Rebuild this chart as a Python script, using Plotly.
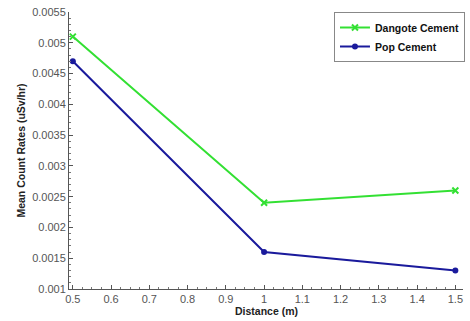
import plotly.graph_objects as go

distance = [0.5, 1.0, 1.5]
dangote = [0.0051, 0.0024, 0.0026]
pop = [0.0047, 0.0016, 0.0013]
x_ticks = [0.5, 0.6, 0.7, 0.8, 0.9, 1.0, 1.1, 1.2, 1.3, 1.4, 1.5]
x_labels = ["0.5", "0.6", "0.7", "0.8", "0.9", "1", "1.1", "1.2", "1.3", "1.4", "1.5"]
y_ticks = [0.001, 0.0015, 0.002, 0.0025, 0.003, 0.0035, 0.004, 0.0045, 0.005, 0.0055]
y_labels = ["0.001", "0.0015", "0.002", "0.0025", "0.003", "0.0035", "0.004", "0.0045", "0.005", "0.0055"]

FONT = "Liberation Sans, Arial, sans-serif"

fig = go.Figure()
fig.add_trace(go.Scatter(x=distance, y=dangote, mode="lines+markers", name="<b>Dangote Cement</b>",
                         line=dict(color="#33e033", width=2),
                         marker=dict(symbol="x-thin", size=6, color="#33e033", line=dict(color="#33e033", width=2))))
fig.add_trace(go.Scatter(x=distance, y=pop, mode="lines+markers", name="<b>Pop Cement</b>",
                         line=dict(color="#1a1a9c", width=2),
                         marker=dict(symbol="circle", size=6, color="#1a1a9c")))

fig.update_layout(
    width=470, height=321,
    margin=dict(l=69, r=5, t=12, b=32),
    paper_bgcolor="white", plot_bgcolor="white",
    font=dict(family=FONT, size=11, color="#555"),
    showlegend=True,
    legend=dict(x=1.005, y=1.0, xanchor="right", yanchor="top",
                bgcolor="white", bordercolor="#888", borderwidth=1,
                font=dict(size=10.5, color="#111", family=FONT),
                tracegroupgap=0, itemwidth=30),
    annotations=[dict(text="<b>Distance (m)</b>", x=0.5, y=0, xref="paper", yref="paper",
                      xanchor="center", yanchor="middle", yshift=-22, showarrow=False,
                      font=dict(size=10.5, color="#222", family=FONT))],
)
fig.update_xaxes(range=[0.49, 1.52], tickvals=x_ticks, ticktext=x_labels,
                 showline=True, linecolor="#555", linewidth=1, showgrid=False, zeroline=False,
                 ticks="inside", ticklen=4, tickcolor="#555",
                 minor=dict(ticks="inside", ticklen=2, tickcolor="#777", dtick=0.025))
fig.update_yaxes(range=[0.001, 0.0055], tickvals=y_ticks, ticktext=y_labels,
                 showline=True, linecolor="#555", linewidth=1, showgrid=False, zeroline=False,
                 ticks="inside", ticklen=4, tickcolor="#555",
                 minor=dict(ticks="inside", ticklen=2, tickcolor="#777", dtick=0.0001),
                 title=dict(text="<b>Mean Count Rates (uSv/hr)</b>", font=dict(size=10.5, color="#222"), standoff=4))

fig.write_html("out.html", config={"displayModeBar": False},
               post_script="document.body.style.margin='0';")
